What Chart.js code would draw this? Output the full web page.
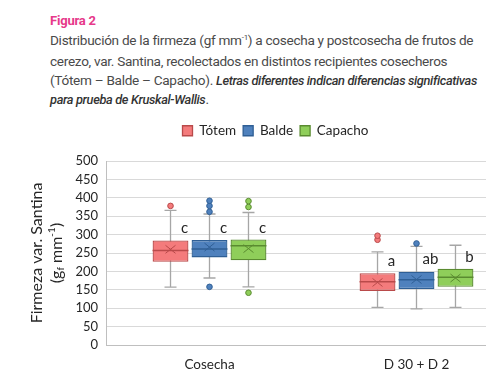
<!DOCTYPE html>
<html lang="es">
<head>
<meta charset="utf-8">
<title>Figura 2</title>
<script src="https://cdn.jsdelivr.net/npm/chart.js@4/dist/chart.umd.min.js"></script>
<style>
  body { margin: 0; background: #fff; width: 496px; height: 390px; overflow: hidden; position: relative; }
  #caption { position: absolute; left: 50px; top: 12px; font-family: Roboto, sans-serif; color: #4a4a4a; font-size: 13.6px; line-height: 18.5px; letter-spacing: -0.3px; white-space: nowrap; }
  #caption .fig { color: #e6398a; font-weight: bold; font-size: 13px; letter-spacing: -0.2px; }
  #caption em { font-weight: 500; color: #333; font-size: 12.8px; letter-spacing: -0.35px; }
  #caption sup { font-size: 8px; vertical-align: baseline; position: relative; top: -5px; }
  #wrap { position: absolute; left: 0; top: 113px; width: 486px; height: 274px; overflow: hidden; }
  #inner { width: 551px; height: 274px; }
</style>
</head>
<body>
<div id="caption">
  <div class="fig">Figura 2</div>
  <div>Distribución de la firmeza (gf mm<sup>-1</sup>) a cosecha y postcosecha de frutos de</div>
  <div>cerezo, var. Santina, recolectados en distintos recipientes cosecheros</div>
  <div>(Tótem – Balde – Capacho). <em>Letras diferentes indican diferencias significativas</em></div>
  <div><em>para prueba de Kruskal-Wallis</em>.</div>
</div>
<div id="wrap"><div id="inner"><canvas id="boxChart"></canvas></div></div>
<script>
// categories and series
const groups = ['Cosecha', 'D 30 + D 2'];
const seriesNames = ['Tótem', 'Balde', 'Capacho'];

// [min, q1, median, q3, max] per group
const totemStats = [[157, 226, 257, 284, 366], [102, 147, 172, 195, 253]];
const baldeStats = [[182, 238, 261, 285, 356], [98, 152, 177, 199, 268]];
const capachoStats = [[158, 230, 270, 287, 360], [102, 158, 184, 207, 271]];

const totemMean = [260, 170];
const baldeMean = [266, 178];
const capachoMean = [262, 182];

const totemOutliers = [[378], [286, 297]];
const baldeOutliers = [[158, 362, 378, 392], [276]];
const capachoOutliers = [[142, 375, 391], []];

// Kruskal-Wallis letters and the value they sit at
const totemLetters = ['c', 'a'];
const baldeLetters = ['c', 'ab'];
const capachoLetters = ['c', 'b'];
const totemLetterY = [317, 228];
const baldeLetterY = [317, 234];
const capachoLetterY = [317, 240];

const yTicks = [0, 50, 100, 150, 200, 250, 300, 350, 400, 450, 500];

const fills = ['#f47b7c', '#4f81bd', '#8fce5a'];
const borders = ['#b94a4a', '#2f5f95', '#5a8b30'];

const allStats = [totemStats, baldeStats, capachoStats];
const allMeans = [totemMean, baldeMean, capachoMean];
const allOutliers = [totemOutliers, baldeOutliers, capachoOutliers];
const allLetters = [totemLetters, baldeLetters, capachoLetters];
const allLetterY = [totemLetterY, baldeLetterY, capachoLetterY];

const FONT = 'Lato, sans-serif';

const boxPlugin = {
  id: 'boxExtras',
  beforeInit(chart) {
    const fit = chart.legend.fit;
    chart.legend.fit = function () {
      fit.bind(chart.legend)();
      this.height = 44;
    };
  },
  beforeDatasetsDraw(chart) {
    const ctx = chart.ctx, y = chart.scales.y;
    ctx.save();
    ctx.strokeStyle = '#a6a6a6';
    ctx.lineWidth = 1.3;
    allStats.forEach((stats, i) => {
      chart.getDatasetMeta(i).data.forEach((bar, j) => {
        const s = stats[j];
        const x = bar.x;
        ctx.beginPath();
        ctx.moveTo(x, y.getPixelForValue(s[0]));
        ctx.lineTo(x, y.getPixelForValue(s[4]));
        [s[0], s[4]].forEach(v => {
          const py = y.getPixelForValue(v);
          ctx.moveTo(x - 6, py);
          ctx.lineTo(x + 6, py);
        });
        ctx.stroke();
      });
    });
    ctx.restore();
  },
  afterDatasetsDraw(chart) {
    const ctx = chart.ctx, y = chart.scales.y;
    ctx.save();
    allStats.forEach((stats, i) => {
      chart.getDatasetMeta(i).data.forEach((bar, j) => {
        const s = stats[j];
        const x = bar.x, hw = bar.width / 2;
        // median
        ctx.strokeStyle = borders[i];
        ctx.lineWidth = 1.5;
        const my = y.getPixelForValue(s[2]);
        ctx.beginPath();
        ctx.moveTo(x - hw, my);
        ctx.lineTo(x + hw, my);
        ctx.stroke();
        // mean cross
        const ay = y.getPixelForValue(allMeans[i][j]);
        ctx.lineWidth = 1;
        ctx.beginPath();
        ctx.moveTo(x - 5, ay - 4); ctx.lineTo(x + 5, ay + 4);
        ctx.moveTo(x + 5, ay - 4); ctx.lineTo(x - 5, ay + 4);
        ctx.stroke();
        // outliers
        ctx.fillStyle = fills[i];
        allOutliers[i][j].forEach(v => {
          ctx.beginPath();
          ctx.arc(x, y.getPixelForValue(v), 2.8, 0, Math.PI * 2);
          ctx.fill();
          ctx.stroke();
        });
        // letters
        ctx.fillStyle = '#262626';
        ctx.font = '15px ' + FONT;
        ctx.textAlign = 'center';
        ctx.textBaseline = 'middle';
        ctx.fillText(allLetters[i][j], x + 14, y.getPixelForValue(allLetterY[i][j]));
      });
    });
    // y axis title with subscript / superscript
    ctx.fillStyle = '#262626';
    ctx.textBaseline = 'middle';
    const cy = (chart.chartArea.top + chart.chartArea.bottom) / 2;
    ctx.translate(37, cy);
    ctx.rotate(-Math.PI / 2);
    ctx.textAlign = 'center';
    ctx.font = '16px ' + FONT;
    ctx.fillText('Firmeza var. Santina', 0, 0);
    const parts = [['(g', 16, 0], ['f', 10, 4], [' mm', 16, 0], ['-1', 10, -5], [')', 16, 0]];
    let total = 0;
    parts.forEach(p => { ctx.font = p[1] + 'px ' + FONT; total += ctx.measureText(p[0]).width; });
    let px = -total / 2;
    ctx.textAlign = 'left';
    parts.forEach(p => {
      ctx.font = p[1] + 'px ' + FONT;
      ctx.fillText(p[0], px, 20 + p[2]);
      px += ctx.measureText(p[0]).width;
    });
    ctx.restore();
  }
};

new Chart(document.getElementById('boxChart').getContext('2d'), {
  type: 'bar',
  data: {
    labels: groups,
    datasets: seriesNames.map((name, i) => ({
      label: name,
      data: allStats[i].map(s => [s[1], s[3]]),
      backgroundColor: fills[i],
      borderColor: borders[i],
      borderWidth: 1.3,
      borderSkipped: false,
      categoryPercentage: 0.565,
      barPercentage: 0.92,
    }))
  },
  options: {
    responsive: true,
    maintainAspectRatio: false,
    animation: false,
    layout: { padding: { top: 4 } },
    plugins: {
      legend: {
        position: 'top',
        labels: { font: { family: FONT, size: 13.5 }, color: '#262626', boxWidth: 10, boxHeight: 10, padding: 7 }
      },
      tooltip: { enabled: false }
    },
    scales: {
      x: {
        grid: { display: false, drawTicks: false },
        border: { color: '#bfbfbf' },
        ticks: { font: { family: FONT, size: 13.5 }, color: '#262626', padding: 12 },
        afterFit(s) { s.height = 42; }
      },
      y: {
        min: 0, max: 500,
        afterBuildTicks(s) { s.ticks = yTicks.map(v => ({ value: v })); },
        grid: { color: '#d9d9d9', drawTicks: false },
        border: { color: '#bfbfbf' },
        ticks: { font: { family: FONT, size: 13 }, color: '#262626', padding: 8, autoSkip: false },
        afterFit(s) { s.width = 106; }
      },
      pad: {
        type: 'linear', position: 'right', display: true,
        grid: { display: false, drawTicks: false },
        border: { display: false },
        ticks: { display: false },
        afterFit(s) { s.width = 31; }
      }
    }
  },
  plugins: [boxPlugin]
});
</script>
</body>
</html>
